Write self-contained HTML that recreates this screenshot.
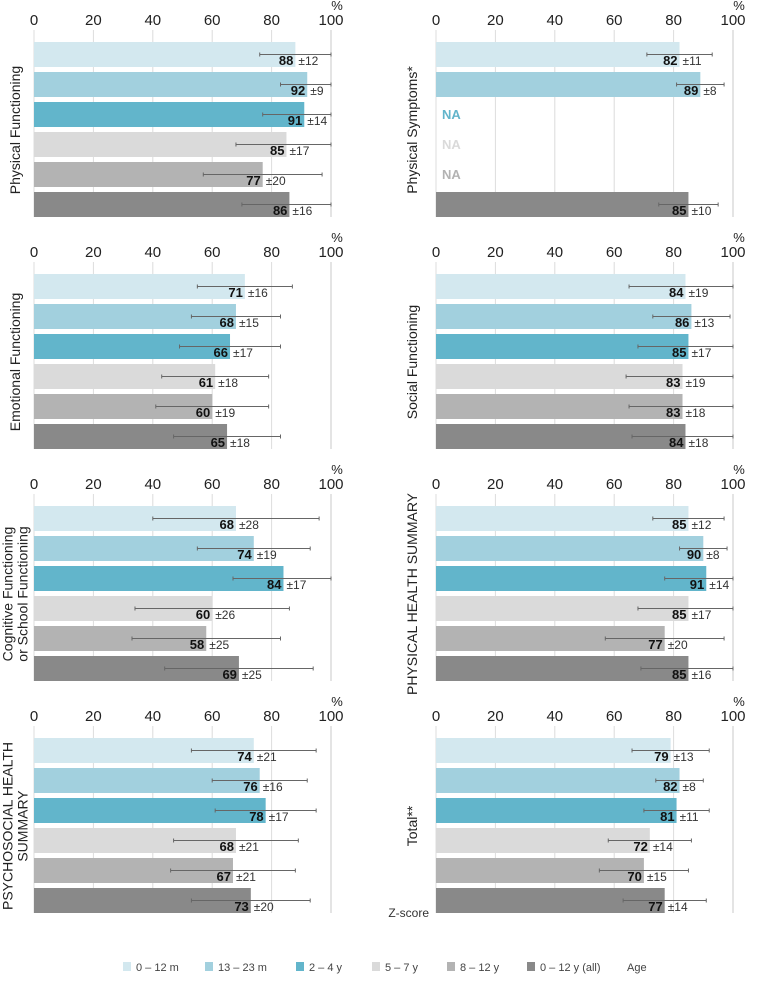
<!DOCTYPE html>
<html><head><meta charset="utf-8"><style>
html,body{margin:0;padding:0;background:#fff;width:757px;height:983px;overflow:hidden}
svg{display:block;font-family:"Liberation Sans","DejaVu Sans",sans-serif}
</style></head><body>
<svg id="c" width="757" height="983"></svg>
<script>
const groups = ["0 – 12 m","13 – 23 m","2 – 4 y","5 – 7 y","8 – 12 y","0 – 12 y (all)"];
const colors = ["#d3e8ef","#a2d0de","#62b5cb","#dadada","#b3b3b3","#898989"];
const ticks = [0,20,40,60,80,100];
const panelTitles = [["Physical Functioning"],["Physical Symptoms*"],["Emotional Functioning"],["Social Functioning"],["Cognitive Functioning","or School Functioning"],["PHYSICAL HEALTH SUMMARY"],["PSYCHOSOCIAL HEALTH","SUMMARY"],["Total**"]];
const physicalMeans = [88,92,91,85,77,86], physicalSD = [12,9,14,17,20,16];
const symptomMeans = [82,89,null,null,null,85], symptomSD = [11,8,null,null,null,10];
const emotionalMeans = [71,68,66,61,60,65], emotionalSD = [16,15,17,18,19,18];
const socialMeans = [84,86,85,83,83,84], socialSD = [19,13,17,19,18,18];
const cognitiveMeans = [68,74,84,60,58,69], cognitiveSD = [28,19,17,26,25,25];
const physSummaryMeans = [85,90,91,85,77,85], physSummarySD = [12,8,14,17,20,16];
const psychoMeans = [74,76,78,68,67,73], psychoSD = [21,16,17,21,21,20];
const totalMeans = [79,82,81,72,70,77], totalSD = [13,8,11,14,15,14];
const allMeans = [physicalMeans,symptomMeans,emotionalMeans,socialMeans,cognitiveMeans,physSummaryMeans,psychoMeans,totalMeans];
const allSD = [physicalSD,symptomSD,emotionalSD,socialSD,cognitiveSD,physSummarySD,psychoSD,totalSD];
const panelNames = ["physical-functioning","physical-symptoms","emotional-functioning","social-functioning","cognitive-functioning","physical-health-summary","psychosocial-health-summary","total"];

const NS="http://www.w3.org/2000/svg";
const svg=document.getElementById('c');
function mk(tag,attrs,parent,text){const e=document.createElementNS(NS,tag);for(const k in attrs)e.setAttribute(k,attrs[k]);if(text!==undefined)e.textContent=text;(parent||svg).appendChild(e);return e;}

for(let p=0;p<8;p++){
  const col=p%2,row=Math.floor(p/2);
  const x0=col?436:34, W=297;
  const top=42+row*232;
  const xs=v=>x0+v/100*W;
  const g=mk('g',{});
  
  
  ticks.forEach(t=>{
    const l=mk('line',{x1:xs(t),x2:xs(t),y1:top-12,y2:top+175,stroke:t===100?'#c8c8c8':'#dcdcdc','stroke-width':1},g);
    
    
    const tx=mk('text',{x:xs(t),y:top-17,'text-anchor':'middle','font-size':15,fill:'#222'},g,String(t));
    
    
  });
  const pc=mk('text',{x:xs(100)+6,y:top-32,'text-anchor':'middle','font-size':13,fill:'#222'},g,'%');
  
  
  const tcx=col?412:15, tcy=top+88;
  const lines=panelTitles[p];
  const tt=mk('text',{transform:`translate(${tcx},${tcy}) rotate(-90)`,'text-anchor':'middle','font-size':14,fill:'#222'},g);
  
  
  lines.forEach((s,i)=>{mk('tspan',{x:0,y:(i-(lines.length-1)/2)*15+5},tt,s);});
  const means=allMeans[p],sds=allSD[p];
  means.forEach((m,i)=>{
    const y=top+i*30;
    if(m===null){
      const na=mk('text',{x:x0+6,y:y+17,'font-size':13,'font-weight':'bold',fill:i===2?'#62b5cb':(i===3?'#dadada':'#b3b3b3')},g,'NA');
      
      
      return;
    }
    const r=mk('rect',{x:x0,y:y,width:xs(m)-x0,height:25,fill:colors[i]},g);
    
    
    const sd=sds[i], lo=Math.max(0,m-sd), hi=Math.min(100,m+sd), ey=y+12.5;
    const eb=mk('g',{stroke:'#666','stroke-width':1},g);
    
    
    mk('line',{x1:xs(lo),x2:xs(hi),y1:ey,y2:ey},eb);
    mk('line',{x1:xs(lo),x2:xs(lo),y1:ey-2,y2:ey+2},eb);
    mk('line',{x1:xs(hi),x2:xs(hi),y1:ey-2,y2:ey+2},eb);
    const vl=mk('text',{x:xs(m)-2,y:y+23,'text-anchor':'end','font-size':13,'font-weight':'bold',fill:'#111'},g,String(m));
    
    
    const sl=mk('text',{x:xs(m)+3,y:y+23,'font-size':12,fill:'#333'},g,'±'+sd);
    
    
  });
}
const z=mk('text',{x:429,y:917,'text-anchor':'end','font-size':12,fill:'#333'},svg,'Z-score');


const legX=[123,205,296,372,447,527];
groups.forEach((gname,i)=>{
  const lg=mk('g',{});
  
  
  mk('rect',{x:legX[i],y:962,width:8,height:9,fill:colors[i]},lg);
  mk('text',{x:legX[i]+13,y:971,'font-size':11,fill:'#444'},lg,gname);
});
const age=mk('text',{x:627,y:971,'font-size':11,fill:'#444'},svg,'Age');


</script>
</body></html>
